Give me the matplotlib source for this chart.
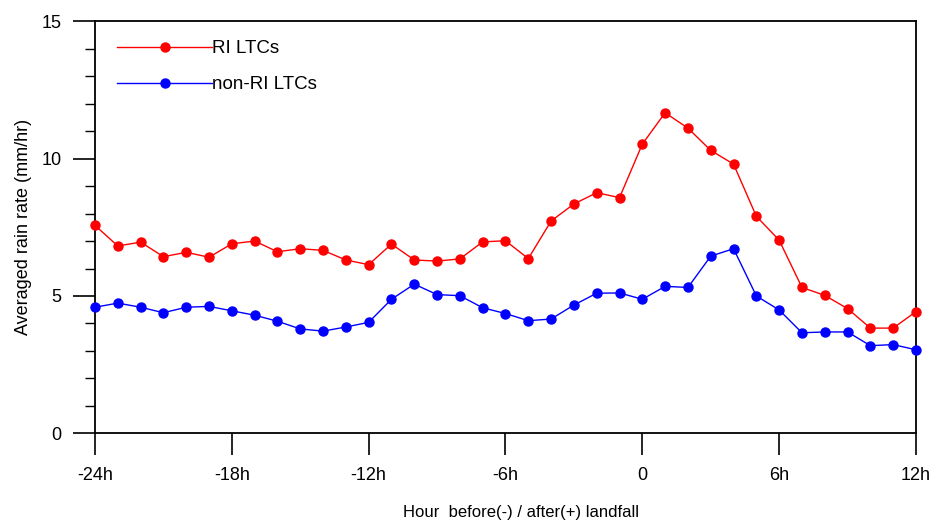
import matplotlib
matplotlib.use("Agg")
import matplotlib.pyplot as plt
from matplotlib.ticker import MultipleLocator, FixedLocator

hours = list(range(-24, 13))
ri_ltcs = [7.57, 6.82, 6.96, 6.43, 6.59, 6.41, 6.90, 7.00, 6.61, 6.72, 6.66, 6.31,
           6.14, 6.89, 6.31, 6.27, 6.35, 6.97, 7.01, 6.36, 7.73, 8.35, 8.76, 8.58,
           10.53, 11.67, 11.11, 10.30, 9.80, 7.90, 7.03, 5.31, 5.02, 4.54, 3.83, 3.83, 4.43]
non_ri_ltcs = [4.59, 4.74, 4.59, 4.39, 4.59, 4.62, 4.46, 4.30, 4.08, 3.80, 3.72, 3.87,
               4.04, 4.88, 5.43, 5.05, 5.01, 4.57, 4.36, 4.10, 4.16, 4.67, 5.10, 5.11,
               4.88, 5.35, 5.31, 6.45, 6.72, 5.00, 4.49, 3.66, 3.69, 3.69, 3.19, 3.23, 3.04]
xtick_vals = [-24, -18, -12, -6, 0, 6, 12]
xtick_labels = ["-24h", "-18h", "-12h", "-6h", "0", "6h", "12h"]
series_names = ["RI LTCs", "non-RI LTCs"]

plt.rcParams['font.family'] = ['Liberation Sans', 'DejaVu Sans']

fig = plt.figure(figsize=(9.32, 5.23), dpi=100)
ax = fig.add_axes([95/932, 1-433.3/523, (916-95)/932, (433.3-21.3)/523])

ax.plot(hours, ri_ltcs, color='#ff0000', marker='o', markersize=6.5, linewidth=1.0,
        label=series_names[0], clip_on=False, zorder=3)
ax.plot(hours, non_ri_ltcs, color='#0000ff', marker='o', markersize=6.5, linewidth=1.0,
        label=series_names[1], clip_on=False, zorder=3)

ax.set_xlim(-24, 12)
ax.set_ylim(0, 15)
ax.xaxis.set_major_locator(FixedLocator(xtick_vals))
ax.set_xticklabels(xtick_labels)
ax.yaxis.set_major_locator(MultipleLocator(5))
ax.yaxis.set_minor_locator(MultipleLocator(1))
ax.tick_params(axis='both', which='major', direction='out', length=16, width=1.2,
               labelsize=13, pad=8)
ax.tick_params(axis='y', which='minor', direction='out', length=7, width=1.0)
for s in ax.spines.values():
    s.set_linewidth(1.3)

ax.set_ylabel("Averaged rain rate (mm/hr)", fontsize=13, labelpad=7)
fig.text(521/932, 1-513/523, "Hour  before(-) / after(+) landfall", fontsize=12,
         ha='center', va='center')

ax.legend(loc='upper left', bbox_to_anchor=(0.018, 0.972), frameon=False, fontsize=13.5,
          handlelength=5.07, handletextpad=0.0, labelspacing=1.0, borderaxespad=0.0)

fig.savefig("out.png", dpi=100)
